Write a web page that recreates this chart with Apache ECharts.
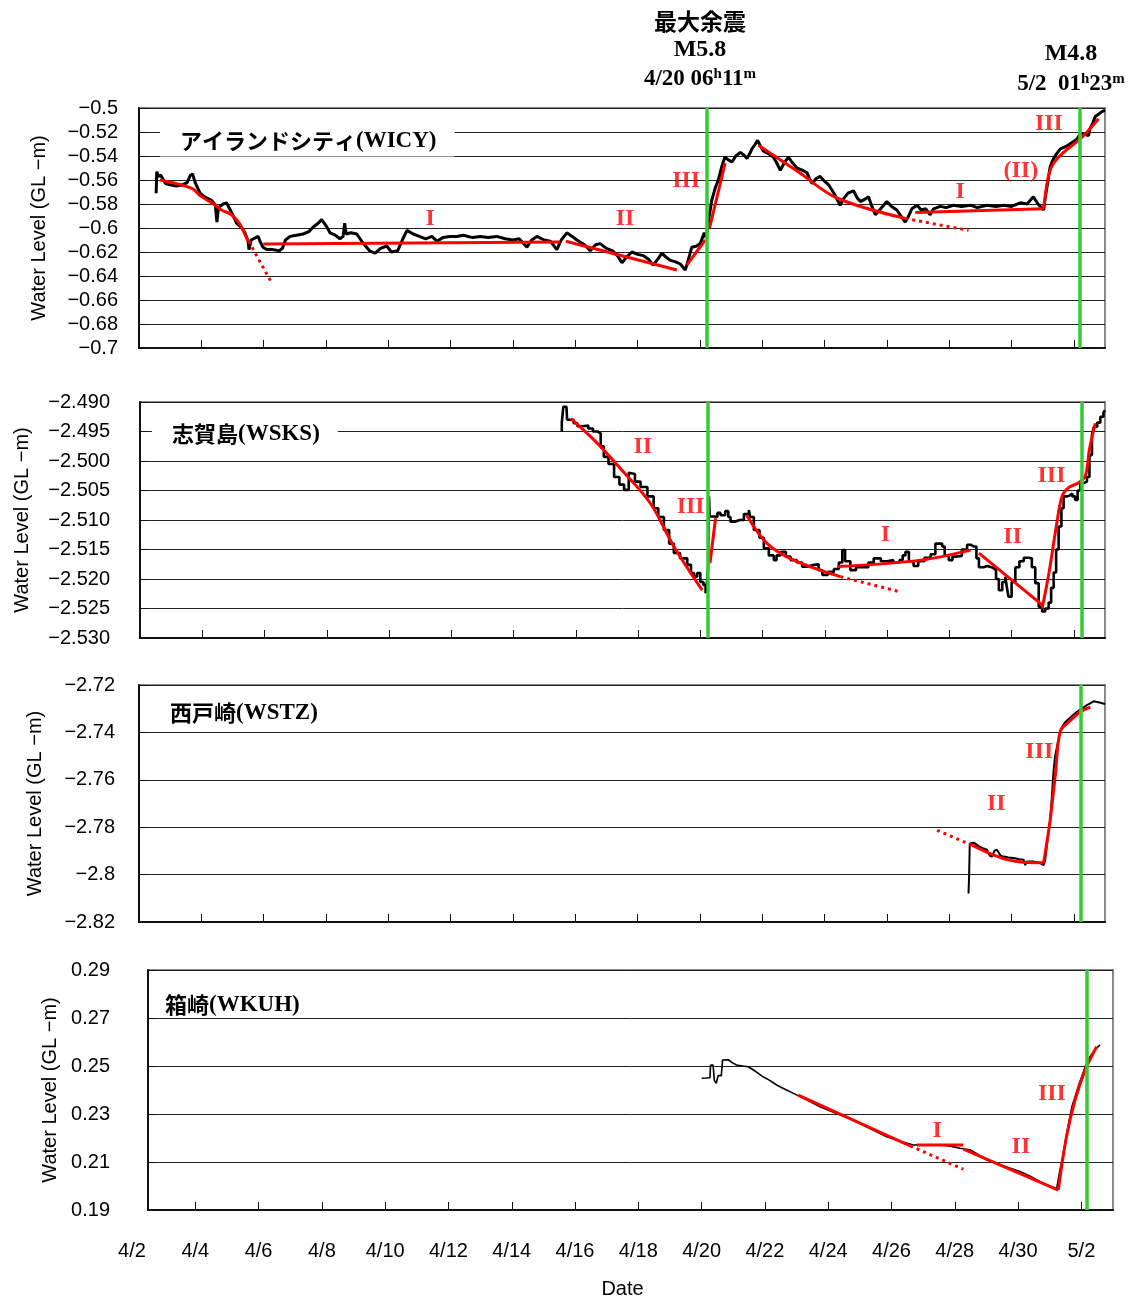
<!DOCTYPE html>
<html>
<head>
<meta charset="utf-8">
<script src="https://cdn.jsdelivr.net/npm/echarts@6/dist/echarts.min.js"></script>
<style>
  html, body { margin: 0; padding: 0; background: #fff; }
  #chart { width: 1133px; height: 1299px; }
</style>
</head>
<body>
<div id="chart"></div>
<script>
// x values are days counted from April 1 (5/1 = 31, 5/2 = 32)
const dayTicks = [2, 4, 6, 8, 10, 12, 14, 16, 18, 20, 22, 24, 26, 28, 30, 32];

// ---- アイランドシティ (WICY)
const wicyLevel = [
  [2.55,-0.571],[2.57,-0.553],[2.62,-0.557],[2.7,-0.556],[2.85,-0.563],[3.0,-0.564],[3.2,-0.565],[3.4,-0.564],
  [3.55,-0.562],[3.65,-0.556],[3.72,-0.555],[3.8,-0.562],[3.96,-0.571],[4.1,-0.574],[4.33,-0.577],[4.45,-0.581],
  [4.5,-0.595],[4.55,-0.583],[4.7,-0.580],[4.81,-0.579],[4.95,-0.586],[5.13,-0.596],[5.3,-0.600],[5.4,-0.604],
  [5.5,-0.611],[5.53,-0.618],[5.6,-0.610],[5.82,-0.607],[5.9,-0.612],[5.98,-0.616],[6.1,-0.618],[6.3,-0.618],
  [6.5,-0.619],[6.6,-0.617],[6.7,-0.610],[6.85,-0.607],[7.05,-0.606],[7.27,-0.605],[7.45,-0.603],[7.6,-0.599],
  [7.75,-0.596],[7.86,-0.593],[8.0,-0.598],[8.13,-0.604],[8.3,-0.606],[8.45,-0.609],[8.55,-0.607],[8.6,-0.596],
  [8.65,-0.605],[8.8,-0.604],[8.99,-0.605],[9.2,-0.613],[9.4,-0.619],[9.58,-0.621],[9.75,-0.617],[9.95,-0.615],
  [10.1,-0.620],[10.3,-0.619],[10.45,-0.610],[10.6,-0.602],[10.8,-0.605],[11.0,-0.607],[11.2,-0.609],[11.4,-0.607],
  [11.56,-0.611],[11.75,-0.608],[11.98,-0.607],[12.2,-0.607],[12.41,-0.606],[12.7,-0.608],[12.95,-0.607],[13.2,-0.608],
  [13.48,-0.607],[13.75,-0.609],[14.0,-0.610],[14.2,-0.609],[14.45,-0.616],[14.6,-0.610],[14.77,-0.607],[15.0,-0.610],
  [15.2,-0.611],[15.41,-0.618],[15.55,-0.610],[15.73,-0.604],[15.9,-0.607],[16.05,-0.610],[16.3,-0.614],[16.48,-0.619],
  [16.65,-0.614],[16.8,-0.613],[17.0,-0.617],[17.2,-0.619],[17.35,-0.623],[17.5,-0.629],[17.65,-0.624],[17.82,-0.620],
  [18.0,-0.622],[18.18,-0.623],[18.35,-0.626],[18.5,-0.631],[18.65,-0.626],[18.78,-0.621],[18.9,-0.624],[19.05,-0.627],
  [19.2,-0.628],[19.37,-0.630],[19.53,-0.635],[19.6,-0.629],[19.74,-0.616],[19.9,-0.615],[20.01,-0.613],[20.14,-0.604],
  [20.2,-0.608],[20.3,-0.590],[20.38,-0.577],[20.5,-0.566],[20.59,-0.560],[20.7,-0.549],[20.8,-0.541],[20.9,-0.543],
  [21.03,-0.545],[21.15,-0.540],[21.3,-0.537],[21.4,-0.539],[21.51,-0.542],[21.6,-0.538],[21.67,-0.534],[21.78,-0.530],
  [21.85,-0.527],[21.95,-0.532],[22.04,-0.536],[22.2,-0.538],[22.36,-0.541],[22.45,-0.545],[22.58,-0.552],[22.7,-0.546],
  [22.84,-0.541],[22.95,-0.545],[23.11,-0.550],[23.3,-0.552],[23.44,-0.554],[23.52,-0.559],[23.6,-0.563],[23.72,-0.559],
  [23.86,-0.557],[24.0,-0.561],[24.13,-0.564],[24.3,-0.571],[24.5,-0.581],[24.6,-0.576],[24.75,-0.571],[24.93,-0.569],
  [25.05,-0.575],[25.15,-0.578],[25.3,-0.576],[25.41,-0.574],[25.52,-0.582],[25.63,-0.589],[25.8,-0.584],[26.0,-0.578],
  [26.15,-0.582],[26.32,-0.585],[26.45,-0.590],[26.59,-0.595],[26.7,-0.590],[26.8,-0.584],[26.97,-0.581],[27.1,-0.585],
  [27.25,-0.584],[27.39,-0.589],[27.5,-0.584],[27.71,-0.582],[27.9,-0.583],[28.14,-0.581],[28.4,-0.582],[28.68,-0.581],
  [28.9,-0.583],[29.21,-0.581],[29.5,-0.582],[29.75,-0.581],[30.0,-0.582],[30.28,-0.579],[30.5,-0.580],[30.7,-0.574],
  [30.85,-0.580],[31.03,-0.585],[31.1,-0.572],[31.24,-0.549],[31.35,-0.542],[31.45,-0.538],[31.57,-0.534],[31.75,-0.532],
  [31.99,-0.528],[32.1,-0.526],[32.21,-0.521],[32.35,-0.522],[32.47,-0.523],[32.52,-0.517],[32.6,-0.513],[32.69,-0.507],
  [32.8,-0.505],[32.9,-0.503],[33.0,-0.502]
];
const wicyTrend = [
  [[2.67,-0.560],[3.7,-0.567],[3.96,-0.573],[4.33,-0.579],[4.65,-0.585],[4.97,-0.589],[5.24,-0.597],[5.46,-0.6085],[5.52,-0.611]],
  [[5.99,-0.6133],[15.52,-0.6117]],
  [[15.7,-0.611],[19.26,-0.635]],
  [[19.58,-0.631],[20.17,-0.610]],
  [[20.31,-0.600],[20.81,-0.546]],
  [[21.88,-0.531],[23.2,-0.554],[24.4,-0.575],[26.59,-0.592]],
  [[26.91,-0.587],[31.03,-0.584]],
  [[31.03,-0.584],[31.19,-0.556],[31.35,-0.546],[31.67,-0.537],[32.1,-0.528],[32.39,-0.521],[32.79,-0.509]]
];
const wicyExtrap = [
  [[5.52,-0.611],[6.26,-0.646]],
  [[26.59,-0.592],[28.62,-0.602]]
];
const wicyPhases = [[11.34,-0.5925,'I'],[17.6,-0.5925,'II'],[19.56,-0.561,'III'],[28.35,-0.570,'I'],[30.3,-0.5525,'(II)'],[31.2,-0.5133,'III']];
const wicyQuakes = [20.23, 32.2];

// ---- 志賀島 (WSKS)
const wsksLevel = [
  [15.55,-2.4950],[15.55,-2.4935],[15.6,-2.4935],[15.6,-2.4908],[15.7,-2.4908],[15.72,-2.4930],[15.85,-2.4930],[15.93,-2.4936],
  [16.05,-2.4941],[16.2,-2.4940],[16.4,-2.4945],[16.55,-2.4950],[16.7,-2.4953],[16.8,-2.4975],[16.9,-2.4993],[17.05,-2.5005],
  [17.23,-2.5027],[17.4,-2.5040],[17.55,-2.5049],[17.7,-2.5020],[17.76,-2.5022],[17.9,-2.5035],[18.08,-2.5044],[18.3,-2.5060],
  [18.5,-2.5080],[18.65,-2.5095],[18.83,-2.5117],[19.0,-2.5140],[19.15,-2.5156],[19.35,-2.5165],[19.58,-2.5176],[19.7,-2.5190],
  [19.8,-2.5196],[19.9,-2.5190],[20.0,-2.5205],[20.1,-2.5210],[20.17,-2.5224],[20.2,-2.5215],[20.25,-2.5180],[20.28,-2.5060],
  [20.3,-2.5094],[20.45,-2.5095],[20.55,-2.5088],[20.65,-2.5092],[20.8,-2.5085],[20.9,-2.5095],[20.97,-2.5103],[21.1,-2.5100],
  [21.27,-2.5100],[21.4,-2.5090],[21.56,-2.5083],[21.6,-2.5095],[21.72,-2.5117],[21.9,-2.5130],[22.04,-2.5148],[22.2,-2.5160],
  [22.36,-2.5168],[22.45,-2.5160],[22.58,-2.5154],[22.75,-2.5162],[22.9,-2.5168],[23.1,-2.5172],[23.27,-2.5179],[23.45,-2.5176],
  [23.65,-2.5175],[23.8,-2.5185],[23.92,-2.5193],[24.1,-2.5188],[24.29,-2.5183],[24.45,-2.5172],[24.56,-2.5151],[24.65,-2.5170],
  [24.82,-2.5185],[25.0,-2.5180],[25.2,-2.5180],[25.4,-2.5172],[25.57,-2.5165],[25.8,-2.5170],[26.0,-2.5168],[26.2,-2.5172],
  [26.4,-2.5168],[26.5,-2.5160],[26.59,-2.5154],[26.7,-2.5170],[26.85,-2.5178],[27.0,-2.5170],[27.2,-2.5164],[27.4,-2.5158],
  [27.55,-2.5140],[27.65,-2.5140],[27.77,-2.5145],[27.85,-2.5160],[27.98,-2.5168],[28.1,-2.5162],[28.25,-2.5161],[28.4,-2.5150],
  [28.57,-2.5142],[28.7,-2.5145],[28.79,-2.5145],[28.87,-2.5165],[28.95,-2.5180],[29.1,-2.5178],[29.22,-2.5180],[29.35,-2.5182],
  [29.43,-2.5185],[29.5,-2.5200],[29.59,-2.5219],[29.7,-2.5205],[29.8,-2.5196],[29.85,-2.5215],[29.9,-2.5230],[30.0,-2.5205],
  [30.12,-2.5180],[30.25,-2.5170],[30.39,-2.5164],[30.55,-2.5165],[30.65,-2.5180],[30.76,-2.5207],[30.87,-2.5247],[30.98,-2.5255],
  [31.08,-2.5250],[31.19,-2.5240],[31.27,-2.5215],[31.35,-2.5189],[31.43,-2.5150],[31.51,-2.5111],[31.6,-2.5080],[31.67,-2.5060],
  [31.78,-2.5058],[31.88,-2.5055],[31.95,-2.5060],[32.04,-2.5066],[32.12,-2.5050],[32.21,-2.5038],[32.3,-2.5035],[32.42,-2.5027],
  [32.5,-2.4990],[32.58,-2.4955],[32.64,-2.4942],[32.75,-2.4935],[32.85,-2.4925],[32.95,-2.4918],[33.0,-2.4914]
];
const wsksTrend = [
  [[15.84,-2.4928],[16.6,-2.4965],[17.44,-2.5013],[18.4,-2.5072],[19.15,-2.5145],[20.06,-2.5219]],
  [[20.31,-2.5173],[20.49,-2.5097]],
  [[21.49,-2.5092],[22.15,-2.5140],[23.0,-2.5168],[24.5,-2.5196]],
  [[24.4,-2.5179],[27.08,-2.5168],[28.68,-2.5151]],
  [[28.95,-2.5156],[30.98,-2.5244]],
  [[30.98,-2.5250],[31.2,-2.5190],[31.45,-2.5106],[31.62,-2.5060],[31.83,-2.5045],[32.15,-2.5037],[32.37,-2.5025],[32.5,-2.4980],[32.69,-2.4936]]
];
const wsksExtrap = [
  [[24.5,-2.5196],[26.43,-2.5222]]
];
const wsksPhases = [[18.15,-2.4976,'II'],[19.69,-2.5078,'III'],[25.95,-2.5125,'I'],[30.03,-2.5129,'II'],[31.28,-2.5025,'III']];
const wsksQuakes = [20.24, 32.24];

// ---- 西戸崎 (WSTZ)
const wstzLevel = [
  [28.62,-2.808],[28.64,-2.800],[28.66,-2.7869],[28.8,-2.7866],[28.95,-2.788],[29.1,-2.789],[29.21,-2.7895],[29.3,-2.792],
  [29.37,-2.7924],[29.45,-2.790],[29.53,-2.7895],[29.65,-2.792],[29.75,-2.7924],[29.9,-2.7928],[30.07,-2.793],[30.25,-2.7935],
  [30.39,-2.7937],[30.44,-2.796],[30.5,-2.7945],[30.7,-2.7945],[30.9,-2.795],[31.03,-2.796],[31.08,-2.794],[31.15,-2.786],
  [31.24,-2.777],[31.3,-2.766],[31.35,-2.756],[31.4,-2.750],[31.46,-2.746],[31.57,-2.739],[31.7,-2.736],[31.78,-2.735],
  [31.95,-2.733],[32.1,-2.7313],[32.25,-2.730],[32.42,-2.7285],[32.55,-2.7275],[32.64,-2.7269],[32.75,-2.7272],[32.85,-2.7275],
  [33.0,-2.728]
];
const wstzTrend = [
  [[28.73,-2.7876],[29.29,-2.791],[29.86,-2.7937],[30.39,-2.7948],[31.03,-2.795]],
  [[31.03,-2.795],[31.24,-2.777],[31.41,-2.7575],[31.57,-2.7395],[31.89,-2.735],[32.21,-2.7313],[32.53,-2.7293]]
];
const wstzExtrap = [
  [[27.61,-2.7813],[28.73,-2.7876]]
];
const wstzPhases = [[29.51,-2.7702,'II'],[30.89,-2.7483,'III']];
const wstzQuakes = [32.21];

// ---- 箱崎 (WKUH)
const wkuhLevel = [
  [20.0,0.2449],[20.15,0.2450],[20.26,0.2451],[20.28,0.2504],[20.36,0.2504],[20.4,0.2440],[20.46,0.2428],[20.52,0.2460],
  [20.57,0.2454],[20.62,0.2460],[20.66,0.2525],[20.71,0.2525],[20.84,0.2526],[20.95,0.2515],[21.1,0.2504],[21.3,0.2500],
  [21.47,0.2497],[21.7,0.2478],[21.94,0.2455],[22.15,0.2440],[22.37,0.2421],[22.6,0.2405],[22.9,0.2386],[23.3,0.2360],
  [23.74,0.2330],[24.2,0.2305],[24.79,0.2275],[25.3,0.2240],[25.85,0.2205],[26.3,0.2185],[26.69,0.2171],[27.1,0.2172],
  [27.53,0.2172],[27.9,0.2165],[28.16,0.2157],[28.48,0.2151],[28.75,0.2130],[29.01,0.2108],[29.5,0.2085],[30.06,0.2060],
  [30.4,0.2040],[30.69,0.2018],[31.0,0.2000],[31.22,0.1990],[31.3,0.2050],[31.43,0.2136],[31.55,0.2230],[31.7,0.2330],
  [31.9,0.2414],[32.12,0.2497],[32.27,0.2539],[32.45,0.2570],[32.59,0.2588]
];
const wkuhTrend = [
  [[23.05,0.2379],[26.59,0.2167]],
  [[26.8,0.2171],[28.27,0.2171]],
  [[28.27,0.2154],[31.27,0.1983]],
  [[31.27,0.1983],[31.53,0.2205],[31.8,0.2358],[32.12,0.2483],[32.48,0.2580]]
];
const wkuhExtrap = [
  [[26.59,0.2167],[28.27,0.2070]]
];
const wkuhPhases = [[27.44,0.2229,'I'],[30.09,0.2162,'II'],[31.07,0.2383,'III']];
const wkuhQuakes = [32.17];
const wkuhTicks = [0.19, 0.21, 0.23, 0.25, 0.27, 0.29];

const minus = s => s.replace('-', '\u2212');
const dateLabel = v => (v <= 30 ? '4/' + v : '5/' + (v - 30));

const panels = [
  { grid: { left: 139, top: 108, width: 966, height: 240 }, xMin: 2,
    y: { min: -0.7, max: -0.5, interval: 0.02 }, fmt: v => minus(String(parseFloat(v.toFixed(2)))),
    margin: 21, nameGap: 90, width: 3, step: false,
    level: wicyLevel, trend: wicyTrend, extrap: wicyExtrap, phases: wicyPhases, quakes: wicyQuakes },
  { grid: { left: 140, top: 402, width: 965, height: 236 }, xMin: 2,
    y: { min: -2.53, max: -2.49, interval: 0.005 }, fmt: v => minus(v.toFixed(3)),
    margin: 30, nameGap: 108, width: 2.6, step: 'end',
    level: wsksLevel, trend: wsksTrend, extrap: wsksExtrap, phases: wsksPhases, quakes: wsksQuakes },
  { grid: { left: 139, top: 685, width: 966, height: 237 }, xMin: 2,
    y: { min: -2.82, max: -2.72, interval: 0.02 }, fmt: v => minus(String(parseFloat(v.toFixed(2)))),
    margin: 24, nameGap: 94, width: 2, step: false,
    level: wstzLevel, trend: wstzTrend, extrap: wstzExtrap, phases: wstzPhases, quakes: wstzQuakes },
  { grid: { left: 148, top: 970, width: 965, height: 240 }, xMin: 2.5,
    y: { min: 0.19, max: 0.29, interval: 0.02, ticks: wkuhTicks }, fmt: v => v.toFixed(2),
    margin: 38, nameGap: 88, width: 1.6, step: false,
    level: wkuhLevel, trend: wkuhTrend, extrap: wkuhExtrap, phases: wkuhPhases, quakes: wkuhQuakes }
];

const grids = [], xAxes = [], yAxes = [], series = [];
const axisFont = { fontFamily: 'Liberation Sans', fontSize: 20, color: '#000' };

panels.forEach((p, i) => {
  grids.push(Object.assign({ show: true, borderColor: '#888', borderWidth: 2, backgroundColor: '#fff' }, p.grid));
  xAxes.push({
    gridIndex: i, type: 'value', min: p.xMin, max: 33,
    axisLine: { onZero: false, lineStyle: { color: '#111', width: 2 } },
    axisTick: { inside: true, length: 8, customValues: dayTicks, lineStyle: { color: '#111', width: 1 } },
    axisLabel: { show: false },
    splitLine: { show: false }
  });
  const yTickOpt = { inside: true, length: 9, lineStyle: { color: '#111', width: 1 } };
  const yLabelOpt = Object.assign({ margin: p.margin, formatter: p.fmt }, axisFont);
  if (p.y.ticks) {
    yTickOpt.customValues = p.y.ticks;
    yLabelOpt.customValues = p.y.ticks;
  }
  yAxes.push({
    gridIndex: i, type: 'value', min: p.y.min, max: p.y.max, interval: p.y.interval,
    axisLine: { show: true, onZero: false, lineStyle: { color: '#111', width: 2 } },
    axisTick: yTickOpt,
    axisLabel: yLabelOpt,
    splitLine: { show: true, lineStyle: { color: '#222', width: 1 } },
    name: 'Water Level (GL \u2212m)', nameLocation: 'middle', nameGap: p.nameGap,
    nameTextStyle: axisFont
  });

  series.push({
    type: 'line', xAxisIndex: i, yAxisIndex: i, data: p.level, showSymbol: false, step: p.step,
    lineStyle: { color: '#000', width: p.width }, z: 2, silent: true
  });
  p.trend.forEach(seg => series.push({
    type: 'line', xAxisIndex: i, yAxisIndex: i, data: seg, showSymbol: false,
    smooth: seg.length > 2 ? 0.35 : false,
    lineStyle: { color: '#ff0000', width: 3 }, z: 3, silent: true
  }));
  p.extrap.forEach(seg => series.push({
    type: 'line', xAxisIndex: i, yAxisIndex: i, data: seg, showSymbol: false,
    lineStyle: { color: '#ff0000', width: 3, type: [3, 4] }, z: 3, silent: true
  }));
  series.push({
    type: 'scatter', xAxisIndex: i, yAxisIndex: i, symbolSize: 1,
    itemStyle: { color: 'rgba(0,0,0,0)' }, z: 5, silent: true,
    data: p.phases.map(d => ({ value: [d[0], d[1]], name: d[2] })),
    label: {
      show: true, position: 'inside', formatter: '{b}', color: '#ff0000',
      fontFamily: 'Liberation Serif', fontWeight: 'bold', fontSize: 24
    },
    markLine: {
      silent: true, symbol: 'none', label: { show: false },
      lineStyle: { color: '#33cc33', width: 3.5, type: 'solid' },
      data: p.quakes.map(q => ({ xAxis: q }))
    }
  });
});

// shared date labels under the bottom panel
grids.push({ left: 132, top: 1210, width: 981, height: 1 });
xAxes.push({
  gridIndex: 4, type: 'value', min: 2, max: 33,
  axisLine: { show: false }, axisTick: { show: false }, splitLine: { show: false },
  axisLabel: Object.assign({ margin: 31, customValues: dayTicks, formatter: dateLabel }, axisFont),
  name: 'Date', nameLocation: 'middle', nameGap: 69, nameTextStyle: axisFont
});
yAxes.push({ gridIndex: 4, type: 'value', show: false });

const serifBold = { fontFamily: 'Liberation Serif', fontWeight: 'bold', fill: '#000' };
const jpBold = { fontFamily: 'Noto Sans CJK JP', fontWeight: 'bold', fontSize: 22 };
const enBold = { fontFamily: 'Liberation Serif', fontWeight: 'bold', fontSize: 23 };
const sup = { fontFamily: 'Liberation Serif', fontWeight: 'bold', fontSize: 15, verticalAlign: 'top', lineHeight: 14 };

function headText(x, y, text, extra) {
  return {
    type: 'text', x: x, y: y, z: 100,
    style: Object.assign({ text: text, align: 'center', verticalAlign: 'middle', fontSize: 24 }, serifBold, extra || {})
  };
}
function panelTitle(x, y, jp, en, boxed) {
  const style = {
    text: '{j|' + jp + '}{e|' + en + '}', verticalAlign: 'middle', fill: '#000',
    rich: { j: jpBold, e: enBold }
  };
  if (boxed) { style.backgroundColor = '#fff'; style.padding = [4, 18, 4, 20]; }
  return { type: 'text', x: x, y: y, z: 100, style: style };
}

const option = {
  animation: false,
  backgroundColor: '#fff',
  grid: grids,
  xAxis: xAxes,
  yAxis: yAxes,
  series: series,
  graphic: [
    headText(700, 21, '最大余震', { fontFamily: 'Noto Sans CJK JP', fontSize: 23 }),
    headText(700, 50, 'M5.8'),
    headText(700, 79, '4/20 06{s|h}11{s|m}', { fontSize: 23, lineHeight: 24, rich: { s: sup } }),
    headText(1071, 54, 'M4.8'),
    headText(1071, 84, '5/2  01{s|h}23{s|m}', { fontSize: 23, lineHeight: 24, rich: { s: sup } }),
    panelTitle(160, 141, 'アイランドシティ', '(WICY)', true),
    panelTitle(152, 434, '志賀島', '(WSKS)', true),
    panelTitle(170, 713, '西戸崎', '(WSTZ)', false),
    panelTitle(165, 1005, '箱崎', '(WKUH)', false)
  ]
};

const chart = echarts.init(document.getElementById('chart'));
chart.setOption(option);
</script>
</body>
</html>
